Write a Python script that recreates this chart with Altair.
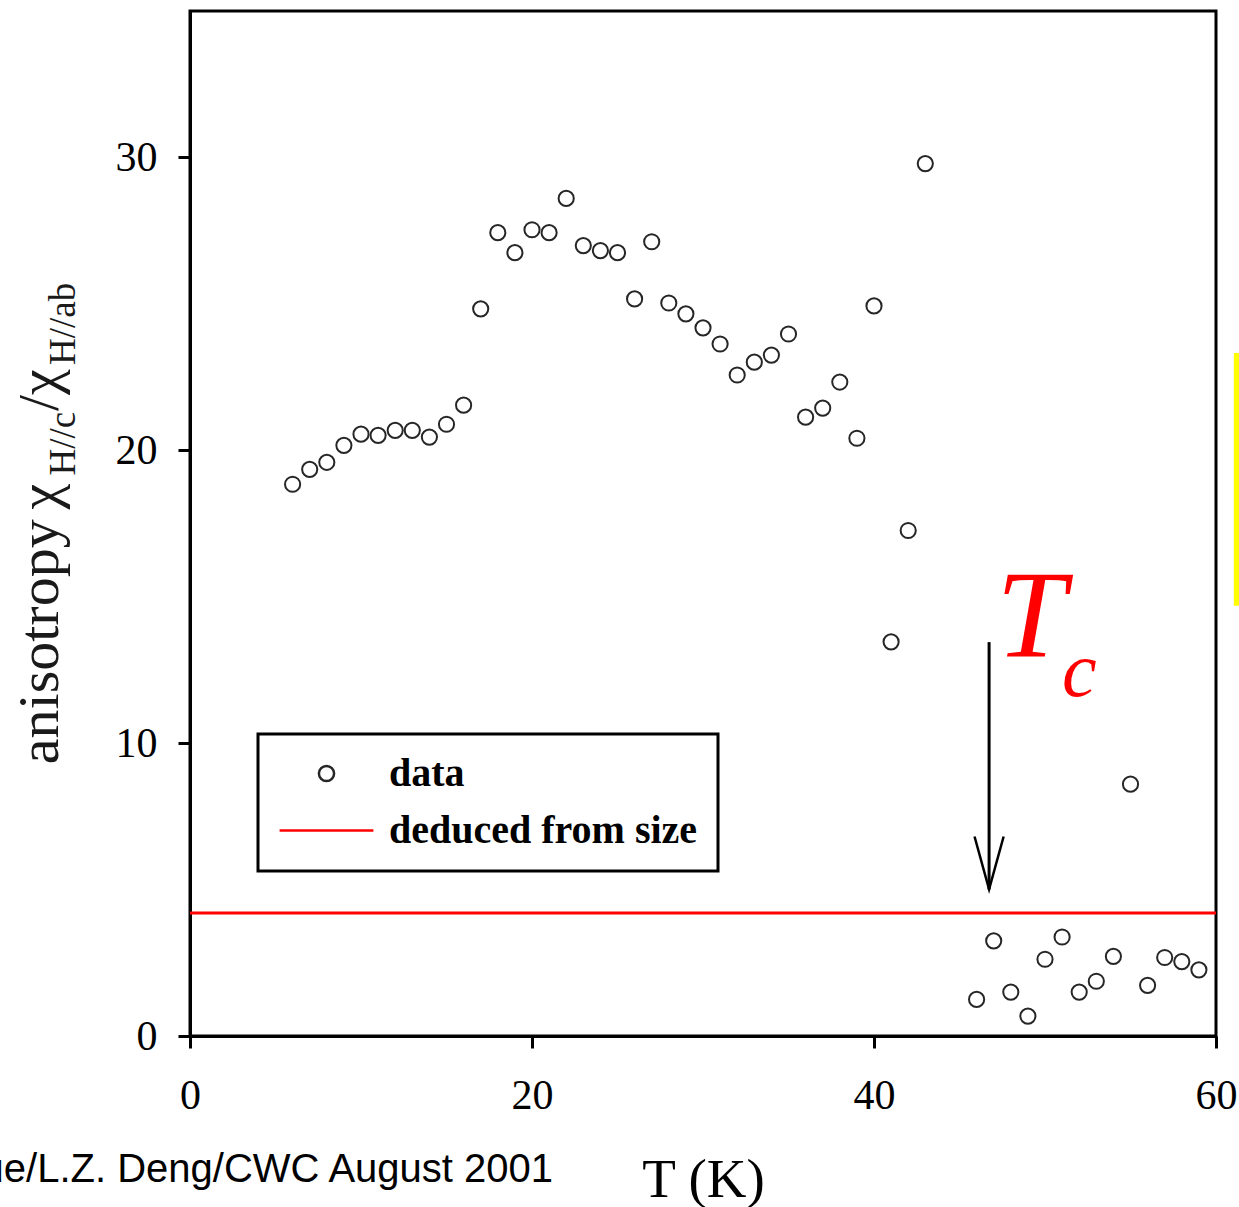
import altair as alt
import pandas as pd

# ---- data ----
temperature = [6, 7, 8, 9, 10, 11, 12, 13, 14, 15, 16, 17, 18, 19, 20, 21, 22, 23, 24, 25,
               26, 27, 28, 29, 30, 31, 32, 33, 34, 35, 36, 37, 38, 39, 40, 41, 42, 43,
               46, 47, 48, 49, 50, 51, 52, 53, 54, 55, 56, 57, 58, 59]
anisotropy = [18.84, 19.35, 19.59, 20.17, 20.55, 20.51, 20.68, 20.68, 20.45, 20.89, 21.54,
              24.83, 27.43, 26.75, 27.53, 27.43, 28.60, 26.99, 26.82, 26.75, 25.17, 27.12,
              25.03, 24.66, 24.18, 23.63, 22.57, 23.01, 23.25, 23.97, 21.13, 21.44, 22.33,
              20.41, 24.93, 13.46, 17.26, 29.79,
              1.25, 3.25, 1.50, 0.68, 2.62, 3.38, 1.50, 1.87, 2.72, 8.60, 1.73, 2.68, 2.54, 2.26]
size_level = [4.20]
legend_labels = ["data", "deduced from size"]

x_ticks = [0, 20, 40, 60]
y_ticks = [0, 10, 20, 30]

# Tc annotation
tc_T = [46.73]
tc_top = [13.45]
tc_tip = [5.0]
tc_head = [5.91]

# y-axis title pieces (main text and subscripts)
ytitle_main_text = ["anisotropy", "χ", "/χ"]
ytitle_main_T = [-7.72, -7.72, -7.72]
ytitle_main_v = [9.28, 17.98, 21.34]
ytitle_sub_text = ["H//c", "H//ab"]
ytitle_sub_T = [-6.73, -6.73]
ytitle_sub_v = [19.14, 22.91]

credit_text = ["Xue/L.Z. Deng/CWC August 2001"]

pts = pd.DataFrame({"T": temperature, "A": anisotropy, "series": legend_labels[0]})
level = pd.DataFrame({"A": size_level})

xscale = alt.Scale(domain=[0, 60], nice=False, zero=False)
yscale = alt.Scale(domain=[0, 35], nice=False, zero=False)

leg = alt.Legend(
    title=None, orient="none", legendX=68, legendY=723,
    padding=20, rowPadding=16, clipHeight=39, symbolOffset=0, labelOffset=14,
    strokeColor="black", labelFont="Liberation Serif", labelFontSize=40,
    labelFontWeight="bold", labelColor="black", labelLimit=0,
    symbolStrokeWidth=2.5,
)

points = alt.Chart(pts).mark_point(filled=False, strokeWidth=2, opacity=1).encode(
    x=alt.X("T:Q", scale=xscale, axis=alt.Axis(
        values=x_ticks, title="T (K)", titleFont="Liberation Serif", titleFontSize=55,
        titleFontWeight="normal", titleColor="black", titlePadding=37,
        labelPadding=27, labelFlush=False)),
    y=alt.Y("A:Q", scale=yscale, axis=alt.Axis(
        values=y_ticks, title=None, labelPadding=21, labelFlush=False)),
    color=alt.Color("series:N", scale=alt.Scale(domain=legend_labels, range=["#262626", "#ff0000"]), legend=leg),
    shape=alt.Shape("series:N", scale=alt.Scale(domain=legend_labels, range=["circle", "stroke"]), legend=leg),
    size=alt.Size("series:N", scale=alt.Scale(type="point", domain=legend_labels, range=[230, 8800], padding=0), legend=leg),
)

redline = alt.Chart(level).mark_rule(color="#ff0000", strokeWidth=3).encode(
    y=alt.Y("A:Q", scale=yscale)
)

tc_df = pd.DataFrame({"T": tc_T, "top": tc_top, "tip": tc_tip, "head": tc_head})
arrow_line = alt.Chart(tc_df).mark_rule(color="black", strokeWidth=3).encode(
    x=alt.X("T:Q", scale=xscale), y=alt.Y("top:Q", scale=yscale), y2="tip:Q"
)
arrow_head = alt.Chart(tc_df).mark_point(
    shape="M-0.55,-1L0,1L0.55,-1", filled=False, strokeWidth=2.5, color="black",
    size=2800, opacity=1
).encode(x=alt.X("T:Q", scale=xscale), y=alt.Y("head:Q", scale=yscale))


def label_layer(texts, xs, ys, **mark_kw):
    df = pd.DataFrame({"t": texts, "T": xs, "A": ys})
    return alt.Chart(df).mark_text(**mark_kw).encode(
        x=alt.X("T:Q", scale=xscale), y=alt.Y("A:Q", scale=yscale), text="t:N"
    )


tc_big = label_layer(["T"], [47.15], [12.95], color="#ff0000", font="Liberation Serif",
                     fontStyle="italic", fontSize=125, align="left", baseline="alphabetic")
tc_small = label_layer(["c"], [51.0], [11.61], color="#ff0000", font="Liberation Serif",
                       fontStyle="italic", fontSize=78, align="left", baseline="alphabetic")

ytitle_main = label_layer(ytitle_main_text, ytitle_main_T, ytitle_main_v, color="#1a1a1a",
                          font="Liberation Serif", fontSize=58, angle=270, align="left",
                          baseline="alphabetic")
ytitle_sub = label_layer(ytitle_sub_text, ytitle_sub_T, ytitle_sub_v, color="#1a1a1a",
                         font="Liberation Serif", fontSize=37, angle=270, align="left",
                         baseline="alphabetic")

credit = label_layer(credit_text, [21.23], [-5.0], color="black",
                     font="Liberation Sans", fontSize=40,
                     align="right", baseline="alphabetic")

yellow = alt.Chart(pd.DataFrame({"T": [61.25], "a": [23.32], "b": [14.69]})).mark_rule(
    color="#ffff00", strokeWidth=7
).encode(x=alt.X("T:Q", scale=xscale), y=alt.Y("a:Q", scale=yscale), y2="b:Q")

chart = alt.layer(
    redline, points, arrow_line, arrow_head, tc_big, tc_small,
    ytitle_main, ytitle_sub, credit, yellow
).properties(
    width=1026, height=1025,
    autosize=alt.AutoSizeParams(type="none"),
    padding={"left": 190, "top": 11, "right": 23, "bottom": 171},
    background="white",
).configure_axis(
    labelFont="Liberation Serif", labelFontSize=42, labelColor="black",
    tickSize=12, tickWidth=3, tickColor="black",
    domainWidth=3, domainColor="black", grid=False, labelOverlap=False,
).configure_view(
    stroke="black", strokeWidth=3
).configure_legend(
    strokeWidth=3
)

chart.save("out.html", embed_options={"renderer": "svg", "actions": False})
